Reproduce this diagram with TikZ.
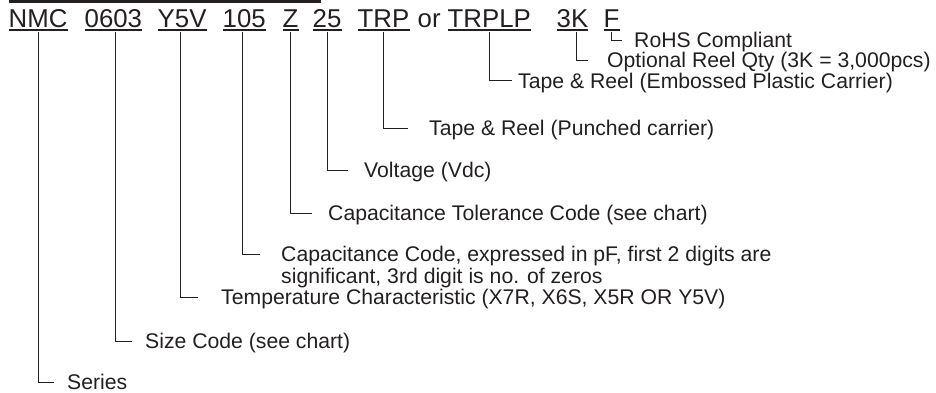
\documentclass[tikz,border=0pt]{standalone}
\usepackage{fontspec}
\setmainfont{Liberation Sans}
\usepackage{tikz}
\definecolor{ink}{RGB}{35,31,32}

\begin{document}
\begin{tikzpicture}[x=1pt, y=-1pt, color=ink,
  hdr/.style={font=\fontsize{25.8}{30}\selectfont, anchor=base west, inner sep=0pt, text depth=2.5pt},
  lbl/.style={font=\fontsize{21.2}{21.5}\selectfont, anchor=west, inner sep=0pt, text height=15pt, text depth=0pt},
  uline/.style={line width=1.3pt},
  conn/.style={line width=1pt}]
  \useasboundingbox (0,0) rectangle (936,393);
  % Bar of the table above
  \fill (9,0) rectangle (321,3);
  % Part number
  \node[hdr] (nmc) at (8.5,27.3) {NMC};
  \node[hdr] (size) at (84.5,27.3) {0603};
  \node[hdr] (temp) at (157.5,27.3) {Y5V};
  \node[hdr] (cap) at (222.5,27.3) {105};
  \node[hdr] (tol) at (282.5,27.3) {Z};
  \node[hdr] (volt) at (312.5,27.3) {25};
  \node[hdr] (trp) at (357.5,27.3) {TRP};
  \node[hdr] (or) at (417.5,27.3) {or};
  \node[hdr] (trplp) at (447.5,27.3) {TRPLP};
  \node[hdr] (qty) at (556.5,27.3) {3K};
  \node[hdr] (rohs) at (603.5,27.3) {F};
  \foreach \n in {nmc,size,temp,cap,tol,volt,trp,trplp,qty,rohs}
    \draw[uline] (\n.south west) -- (\n.south east);
  % Explanations
  \node[lbl] (series) at (67,382) {Series};
  \node[lbl] (sizelbl) at (145,341) {Size Code (see chart)};
  \node[lbl] (templbl) at (221,297) {Temperature Characteristic (X7R, X6S, X5R OR Y5V)};
  \node[lbl, anchor=base west, align=left] (caplbl) at (281,283)
    {Capacitance Code, expressed in pF, first 2 digits are\\significant, 3rd digit is no. of zeros};
  \node[lbl] (tollbl) at (328,213) {Capacitance Tolerance Code (see chart)};
  \node[lbl] (voltlbl) at (364,170) {Voltage (Vdc)};
  \node[lbl] (trplbl) at (429,128) {Tape \& Reel (Punched carrier)};
  \node[lbl] (trplplbl) at (518,81) {Tape \& Reel (Embossed Plastic Carrier)};
  \node[lbl] (qtylbl) at (607,60.5) {Optional Reel Qty (3K = 3,000pcs)};
  \node[lbl] (rohslbl) at (634,40.5) {RoHS Compliant};
  % Leaders
  \draw[conn] ([yshift=-2pt]nmc.south) |- ([xshift=-13pt]series.west);
  \draw[conn] ([xshift=2pt,yshift=-2pt]size.south) |- ([xshift=-13pt]sizelbl.west);
  \draw[conn] ([xshift=-2pt,yshift=-2pt]temp.south) |- ([xshift=-23pt]templbl.west);
  \draw[conn] ([xshift=-2pt,yshift=-2pt]cap.south) |- ([xshift=-21pt,yshift=29pt]caplbl.base west);
  \draw[conn] ([yshift=-2pt]tol.south) |- ([xshift=-16pt]tollbl.west);
  \draw[conn] ([yshift=-2pt]volt.south) |- ([xshift=-16pt]voltlbl.west);
  \draw[conn] ([yshift=-2pt]trp.south) |- ([xshift=-21pt]trplbl.west);
  \draw[conn] ([yshift=-2pt]trplp.south) |- ([xshift=-6pt]trplplbl.west);
  \draw[conn] ([xshift=4pt,yshift=-2pt]qty.south) |- ([xshift=-19pt]qtylbl.west);
  \draw[conn] ([yshift=-2pt]rohs.south) |- ([xshift=-12pt]rohslbl.west);
\end{tikzpicture}
\end{document}
